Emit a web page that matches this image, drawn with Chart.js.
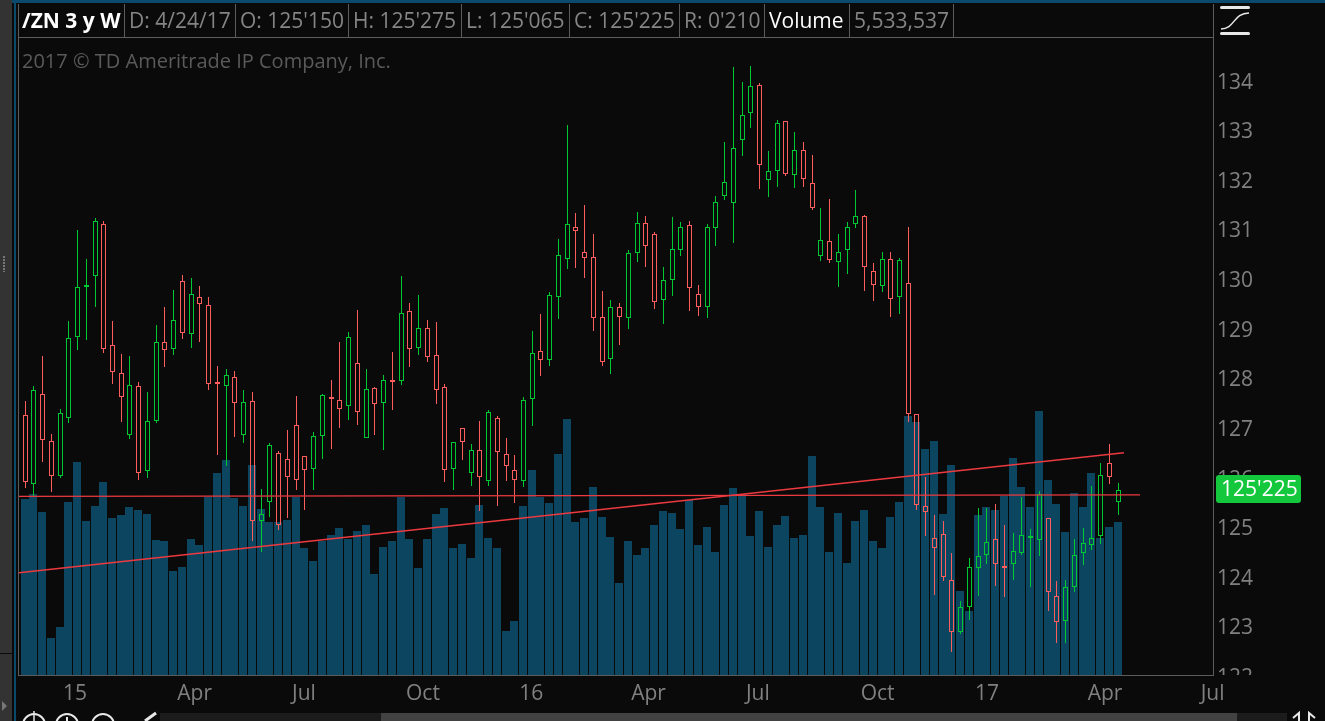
<!DOCTYPE html>
<html>
<head>
<meta charset="utf-8">
<title>/ZN 3 y W</title>
<script src="https://cdn.jsdelivr.net/npm/chart.js@4"></script>
<style>
  html, body { margin: 0; padding: 0; width: 1325px; height: 721px; overflow: hidden; background: #0a0a0a; }
  body { position: relative; font-family: "Open Sans", sans-serif; }
  canvas { position: absolute; left: 0; top: 0; }
  .cell { position: absolute; top: 4px; height: 33px; line-height: 33px; font-size: 21px; color: #858585;
          box-sizing: border-box; padding-left: 4px; border-right: 1px solid #5c5c5c; white-space: nowrap; }
  .white { color: #fff; }
  #copy { position: absolute; left: 22px; top: 48px; font-size: 20px; line-height: 26px; color: #5a5a5a; white-space: nowrap; }
  #tag { position: absolute; left: 1216px; top: 475px; width: 85px; height: 28px; line-height: 27px; background: #13c83c;
         border-radius: 3px; color: #fff; font-size: 21px; box-sizing: border-box; padding-left: 5px; }
  .bar { position: absolute; }
  svg { position: absolute; left: 0; top: 0; }
</style>
</head>
<body>
<canvas id="chart" width="1325" height="721"></canvas>

<!-- window chrome -->
<div class="bar" style="left:0;top:0;width:1325px;height:3px;background:#0b4a6c"></div>
<div class="bar" style="left:0;top:0;width:12px;height:721px;background:#333"></div>
<div class="bar" style="left:14px;top:0;width:2px;height:721px;background:#0b4a6c"></div>
<div class="bar" style="left:0;top:653px;width:12px;height:1px;background:#0a0a0a"></div>
<div class="bar" style="left:160px;top:713px;width:1127px;height:8px;background:#1c1c1c"></div>
<div class="bar" style="left:381px;top:713px;width:856px;height:8px;background:#424242"></div>

<!-- header strip -->
<div class="cell white" style="left:19px;width:106px;font-weight:700;padding-left:3px;">/ZN 3 y W</div>
<div class="cell" style="left:125px;width:111px;">D: 4/24/17</div>
<div class="cell" style="left:236px;width:113px;">O: 125'150</div>
<div class="cell" style="left:349px;width:113px;">H: 125'275</div>
<div class="cell" style="left:462px;width:108px;">L: 125'065</div>
<div class="cell" style="left:570px;width:110px;">C: 125'225</div>
<div class="cell" style="left:680px;width:85px;">R: 0'210</div>
<div class="cell white" style="left:765px;width:85px;">Volume</div>
<div class="cell" style="left:850px;width:104px;">5,533,537</div>
<div id="copy">2017 © TD Ameritrade IP Company, Inc.</div>
<div id="tag">125'225</div>

<!-- toolbar icons -->
<svg width="1325" height="721" fill="none" stroke="#e8e8e8" stroke-width="2">
  <rect x="1220" y="6" width="30" height="3" rx="1.5" fill="#e8e8e8" stroke="none"/>
  <rect x="1220" y="32" width="30" height="3" rx="1.5" fill="#e8e8e8" stroke="none"/>
  <path d="M1221 29 C1235 29 1233 13 1249 13" stroke-width="1.5"/>
  <circle cx="34" cy="725" r="11"/><path d="M34 711V735M22 725H46" stroke-width="1.5"/>
  <circle cx="67" cy="725" r="11"/><path d="M67 717V725"/>
  <circle cx="103" cy="725" r="11"/>
  <path d="M145 721L156 713" stroke-width="3"/>
  <path d="M1293 718L1299 713V721M1315 718L1309 713V721" stroke-width="2"/>
  <path d="M2 701L7 706L2 711Z" fill="#777" stroke="none"/>
  <path d="M4 256V272" stroke="#777" stroke-width="2" stroke-dasharray="2 1"/>
</svg>

<script>
// ===== /ZN weekly candles with volume =====

// Candle values, one per week, oldest first
const opens = [
  127.22,125.84,127.64,126.69,126.00,127.16,128.79,129.81,130.02,131.07,
  128.63,128.06,126.81,127.80,126.09,127.10,128.69,128.55,129.92,128.85,
  129.60,129.43,127.88,127.80,127.98,126.81,127.50,125.08,125.46,126.45,
  126.33,127.01,126.39,126.13,126.79,127.58,127.52,127.40,128.26,126.75,
  127.76,127.46,127.92,127.90,129.31,128.57,128.97,128.43,127.78,126.13,
  126.95,126.05,126.51,125.89,127.16,126.43,126.11,125.89,127.54,128.51,
  128.33,129.60,130.36,131.01,130.50,130.40,129.19,128.35,129.39,129.17,
  130.48,131.09,130.87,129.54,129.94,130.54,131.05,129.66,129.39,130.99,
  131.63,131.49,132.76,133.30,133.87,131.95,132.14,133.14,132.06,132.56,
  131.89,130.42,130.72,130.30,130.54,131.07,131.23,130.12,129.82,130.36,
  129.60,129.88,127.24,125.38,124.74,124.82,123.89,122.84,123.35,124.13,
  124.39,124.72,124.18,124.21,124.43,124.74,124.70,125.14,123.57,123.06,
  123.75,124.43,124.60,124.78,126.25,125.47
];
const highs = [
  127.51,127.81,128.41,126.84,127.34,129.11,130.95,130.36,131.19,131.13,
  129.11,128.45,128.41,127.88,127.68,129.03,129.39,129.74,130.04,129.98,
  129.82,129.60,128.21,128.14,128.10,127.72,127.68,125.72,126.65,126.49,
  126.92,127.60,126.39,126.87,127.64,127.92,128.69,128.89,129.33,128.14,
  127.78,128.02,128.49,130.02,129.47,129.64,129.13,129.09,127.84,126.67,
  126.95,126.64,127.10,127.32,127.20,126.76,126.42,127.59,128.92,129.26,
  129.70,130.76,133.07,131.29,131.46,130.87,129.72,129.54,129.48,130.55,
  131.31,131.23,130.91,130.21,131.21,131.11,131.13,129.84,131.07,131.63,
  132.72,134.24,133.94,134.26,133.92,132.54,133.17,133.14,132.92,132.72,
  132.46,131.39,131.57,130.87,131.11,131.76,131.25,130.28,130.50,130.50,
  130.38,131.01,127.24,125.97,125.21,125.09,124.44,123.47,124.34,125.35,
  125.35,125.43,125.00,124.84,125.56,124.92,125.68,125.14,123.87,123.89,
  124.72,124.94,125.79,126.25,126.63,125.86
];
const lows = [
  125.74,125.56,126.28,125.66,125.96,127.05,128.54,128.74,129.39,128.48,
  127.85,127.07,126.74,125.92,125.96,127.05,128.18,128.44,128.76,128.58,
  128.70,127.73,126.42,126.20,126.77,126.66,124.69,124.45,125.17,124.91,
  125.15,125.70,125.31,125.70,126.34,126.54,126.95,127.13,127.01,126.75,
  126.81,126.52,127.33,127.83,128.18,128.44,128.28,127.45,125.88,125.70,
  126.32,125.78,125.28,125.78,125.39,125.90,125.44,125.76,126.99,128.01,
  128.21,129.16,130.17,130.19,129.99,128.92,128.20,128.05,128.63,128.96,
  130.31,130.21,129.36,129.06,129.62,130.43,129.32,129.22,129.18,130.63,
  131.56,130.68,132.44,133.01,131.78,131.62,131.82,132.04,131.80,131.82,
  131.36,130.33,130.29,129.80,130.07,131.00,129.72,129.52,129.70,129.20,
  129.26,127.08,125.31,124.78,123.59,123.88,122.44,122.81,123.09,123.57,
  124.22,123.78,123.55,123.90,124.40,123.75,124.38,123.27,122.63,122.63,
  123.65,124.20,124.50,124.62,125.82,125.20
];
const closes = [
  125.88,127.72,126.71,126.00,127.26,128.77,129.80,129.84,131.13,128.55,
  128.08,127.58,127.82,126.05,127.10,128.69,128.53,129.13,128.87,129.66,
  129.45,127.84,127.86,128.02,127.46,127.48,125.08,125.23,126.61,125.00,
  125.97,125.91,126.11,126.79,127.62,127.56,127.34,128.79,127.28,127.74,
  127.44,127.92,127.88,129.27,128.55,128.97,128.39,127.72,126.11,126.67,
  126.67,126.51,125.97,127.28,126.47,126.19,125.91,127.53,128.47,128.33,
  129.64,130.44,131.07,130.93,130.38,129.17,128.29,129.39,129.19,130.48,
  131.09,130.62,129.49,129.94,130.56,131.01,129.78,129.39,131.01,131.51,
  131.91,132.60,133.26,133.85,132.26,132.14,133.10,132.08,132.56,131.97,
  131.39,130.74,130.34,130.50,131.01,131.23,130.20,129.84,130.36,129.56,
  130.34,127.24,125.40,125.26,124.54,123.95,122.84,123.35,124.15,124.37,
  124.66,124.21,124.15,124.47,124.80,124.78,125.62,123.65,123.04,123.75,
  124.39,124.64,124.74,126.01,125.97,125.70
];

// Volume in millions of contracts
const volumes = [
  6.37,6.55,5.90,1.34,1.74,6.26,7.70,5.57,6.11,6.98,
  5.68,5.79,6.08,5.97,5.82,4.88,4.85,3.76,3.91,4.92,
  4.70,6.44,7.31,7.78,6.40,6.11,7.60,6.00,5.53,5.53,
  5.61,6.44,4.59,4.12,4.85,5.06,5.32,4.92,5.21,5.43,
  3.65,4.63,4.85,6.44,4.92,3.87,4.92,5.82,6.04,4.59,
  4.74,4.23,6.15,4.96,4.59,1.59,1.95,6.11,7.41,6.44,
  6.22,7.99,9.26,5.53,5.68,6.80,5.71,4.99,3.33,4.85,
  4.34,4.59,5.43,5.93,5.86,5.28,6.33,4.70,5.35,4.45,
  6.15,6.76,6.55,5.03,5.93,4.63,5.43,5.75,4.96,5.06,
  7.92,6.08,4.45,5.86,4.05,5.57,5.97,4.85,4.59,5.71,
  6.26,9.37,9.15,8.17,8.46,5.82,7.60,3.04,2.31,5.79,
  6.08,5.97,6.47,7.85,6.80,6.08,9.55,7.05,6.18,5.17,
  6.58,6.08,7.31,4.96,5.35,5.53
];

// Month labels on the time axis, placed by week number
const tickWeeks = [5.7, 19.4, 31.9, 45.5, 57.9, 71.3, 83.8, 97.5, 110, 123.5, 135.8];
const tickLabels = ["15", "Apr", "Jul", "Oct", "16", "Apr", "Jul", "Oct", "17", "Apr", "Jul"];

// The two hand drawn lines: [week, price]
const flatLine = [[-0.69, 125.58], [127.5, 125.61]];
const trendLine = [[-0.69, 124.04], [125.67, 126.46]];

const UP = "#00c832";
const DOWN = "#ff5c5c";
const candleColors = closes.map((c, i) => c >= opens[i] ? UP : DOWN);
const toPoints = line => line.map(p => ({ x: p[0], y: p[1] }));

// Keeps wicks and body outlines on whole pixels so they stay sharp
const snapBars = {
    id: "snapBars",
    afterDatasetsUpdate(chart) {
        chart.data.datasets.forEach((ds, d) => {
            if (ds.type === "line") return;
            chart.getDatasetMeta(d).data.forEach(el => {
                const isVolume = ds.label === "Volume";
                el.x = isVolume ? Math.floor(el.x) : Math.floor(el.x) + 0.5;
                el.y = Math.round(el.y);
                el.base = Math.round(el.base);
                if (ds.label === "Body" && Math.abs(el.base - el.y) < 2) el.base = el.y + 2;
            });
        });
    }
};

// Plot frame, and the lower price label is cut off by the frame edge.
// The time axis labels have z 1, so they are drawn after this cover and stay whole.
const frame = {
    id: "frame",
    beforeDatasetsDraw(chart) {
        const { ctx, chartArea: a } = chart;
        ctx.save();
        ctx.fillStyle = "#0a0a0a";
        ctx.fillRect(a.right + 1, a.bottom, 1325 - a.right, 16);
        ctx.restore();
    },
    afterDraw(chart) {
        const { ctx, chartArea: a } = chart;
        ctx.save();
        ctx.strokeStyle = "#5c5c5c";
        ctx.lineWidth = 1;
        ctx.strokeRect(a.left - 0.5, a.top - 0.5, a.right - a.left + 1, a.bottom - a.top + 1);
        ctx.beginPath();
        ctx.moveTo(a.left - 0.5, 4);
        ctx.lineTo(a.left - 0.5, a.top);
        ctx.moveTo(a.right + 0.5, 4);
        ctx.lineTo(a.right + 0.5, a.top);
        ctx.stroke();
        ctx.restore();
    }
};

const axisFont = { family: "'Open Sans', sans-serif", size: 21 };

new Chart(document.getElementById("chart").getContext("2d"), {
    type: "bar",
    plugins: [snapBars, frame],
    data: {
        datasets: [
            {
                label: "Flat line",
                type: "line",
                data: toPoints(flatLine),
                borderColor: "#ec3a40",
                borderWidth: 1.4,
                pointRadius: 0,
                order: 1
            },
            {
                label: "Trend line",
                type: "line",
                data: toPoints(trendLine),
                borderColor: "#ec3a40",
                borderWidth: 1.4,
                pointRadius: 0,
                order: 1
            },
            {
                label: "Body",
                data: opens.map((o, i) => ({ x: i, y: [o, closes[i]] })),
                backgroundColor: "rgba(0,0,0,0)",
                borderColor: candleColors,
                borderWidth: 1,
                borderSkipped: false,
                inflateAmount: 0,
                barThickness: 5,
                grouped: false,
                order: 2
            },
            {
                label: "Upper wick",
                data: highs.map((h, i) => ({ x: i, y: [Math.max(opens[i], closes[i]), h] })),
                backgroundColor: candleColors,
                borderWidth: 0,
                inflateAmount: 0,
                barThickness: 1,
                grouped: false,
                order: 3
            },
            {
                label: "Lower wick",
                data: lows.map((l, i) => ({ x: i, y: [l, Math.min(opens[i], closes[i])] })),
                backgroundColor: candleColors,
                borderWidth: 0,
                inflateAmount: 0,
                barThickness: 1,
                grouped: false,
                order: 3
            },
            {
                label: "Volume",
                data: volumes.map((v, i) => ({ x: i, y: v })),
                yAxisID: "volume",
                backgroundColor: "#0b455f",
                borderWidth: 0,
                inflateAmount: 0,
                barThickness: 8,
                grouped: false,
                order: 5
            }
        ]
    },
    options: {
        responsive: false,
        animation: false,
        events: [],
        layout: { padding: { top: 38, left: 19, right: 0, bottom: 0 } },
        plugins: { legend: { display: false }, tooltip: { enabled: false } },
        scales: {
            x: {
                type: "linear",
                offset: false,
                min: -0.692,
                max: 135.85,
                grid: { display: false, offset: false, tickLength: 0 },
                border: { display: false },
                afterBuildTicks: scale => { scale.ticks = tickWeeks.map(w => ({ value: w })); },
                afterFit: scale => { scale.height = 46; },
                ticks: {
                    z: 1,
                    autoSkip: false,
                    maxRotation: 0,
                    padding: 6,
                    color: "#808080",
                    font: axisFont,
                    callback: (value, i) => tickLabels[i]
                }
            },
            y: {
                position: "right",
                min: 121.98,
                max: 134.82,
                grid: { display: false, tickLength: 0 },
                border: { display: false },
                afterFit: scale => { scale.width = 112; },
                ticks: {
                    stepSize: 1,
                    includeBounds: false,
                    autoSkip: false,
                    padding: 4,
                    labelOffset: 4,
                    color: "#808080",
                    font: axisFont
                }
            },
            volume: {
                display: false,
                position: "left",
                min: 0,
                max: 23.04
            }
        }
    }
});
</script>
</body>
</html>
